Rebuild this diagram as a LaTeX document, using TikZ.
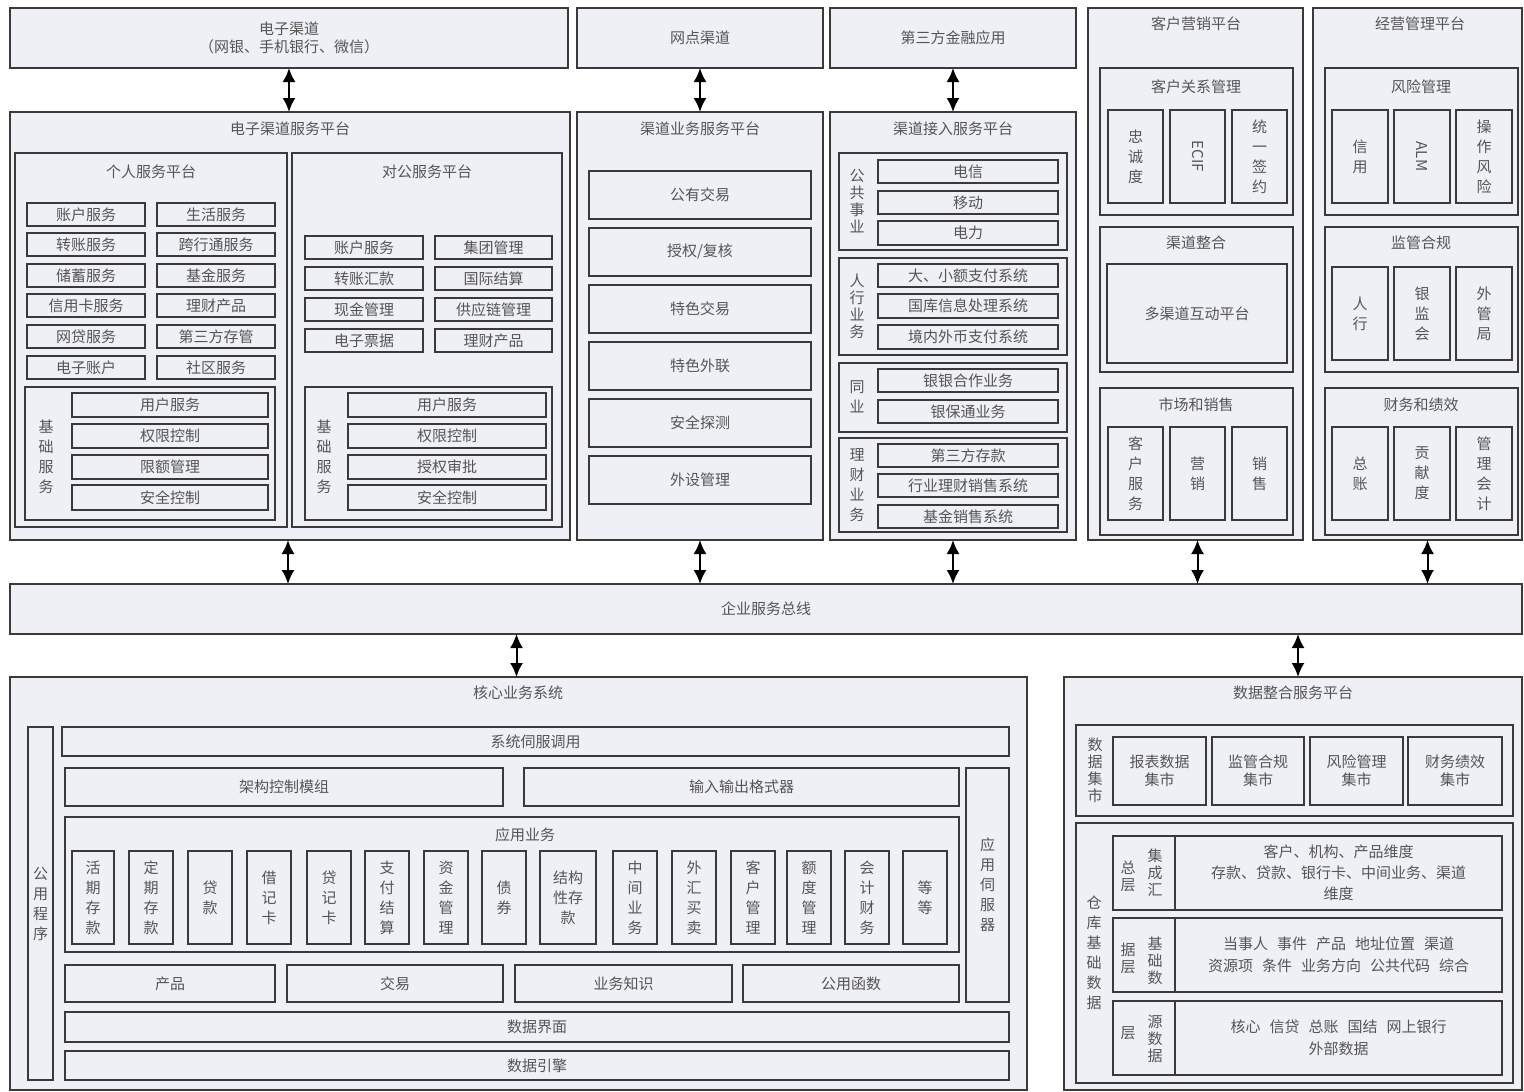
\documentclass[tikz,border=0pt]{standalone}
\usepackage{fontspec}
\usepackage{graphicx}
\setmainfont{Noto Sans CJK SC}
\usetikzlibrary{arrows.meta}
\definecolor{boxfill}{HTML}{EEF0F6}
\definecolor{lnc}{HTML}{3A3A3A}
\definecolor{txt}{HTML}{555555}
\newcommand\bx[7][]{\node[box,#1,minimum width={(#5-#3)*1pt},minimum height={(#6-#4)*1pt}] (#2) at ({(#3+#5)/2},{(#4+#6)/2}) {#7};}
\newcommand\sgap{\hspace{0.6em}}
\tikzset{
 box/.style={draw=lnc,fill=boxfill,line width=1.6pt,inner sep=0pt,outer sep=0pt,text=txt,font=\fontsize{15}{18}\selectfont,align=center},
 grp/.style={line width=1.8pt},
 vt/.style={font=\fontsize{15}{20}\selectfont},
 vts/.style={font=\fontsize{15}{17}\selectfont},
 ttl/.style={text=txt,font=\fontsize{15}{18}\selectfont,inner sep=0pt,anchor=center,align=center},
 arr/.style={{Latex[length=14pt,width=13pt]}-{Latex[length=14pt,width=13pt]},line width=2pt,black},
}
\begin{document}
\begin{tikzpicture}[x=1pt,y=-1pt]
\useasboundingbox[fill=white] (0,0) rectangle (1524,1092);
% top row
\bx{ech}{10}{8}{568}{68}{电子渠道\\（网银、手机银行、微信）}
\bx{wd}{577}{8}{823}{68}{网点渠道}
\bx{dsf}{830}{8}{1076}{68}{第三方金融应用}
\bx[grp]{khyx}{1088}{8}{1303}{540}{}
\node[ttl] (khyxt) at (1196,24) {客户营销平台};
\bx[grp]{jygl}{1313}{8}{1522}{540}{}
\node[ttl] (jyglt) at (1420,24) {经营管理平台};
% electronic channel service platform
\bx[grp]{echsp}{10}{112}{570}{540}{}
\node[ttl] (echspt) at (290,129) {电子渠道服务平台};
\bx[grp]{gr}{15}{153}{287}{527}{}
\node[ttl] (grt) at (151,172) {个人服务平台};
\bx{gra}{27}{203}{145}{226}{账户服务}
\bx{grb}{157}{203}{275}{226}{生活服务}
\bx{grc}{27}{233}{145}{256}{转账服务}
\bx{grd}{157}{233}{275}{256}{跨行通服务}
\bx{gre}{27}{264}{145}{287}{储蓄服务}
\bx{grf}{157}{264}{275}{287}{基金服务}
\bx{grg}{27}{294}{145}{317}{信用卡服务}
\bx{grh}{157}{294}{275}{317}{理财产品}
\bx{gri}{27}{325}{145}{348}{网贷服务}
\bx{grj}{157}{325}{275}{348}{第三方存管}
\bx{grk}{27}{356}{145}{379}{电子账户}
\bx{grl}{157}{356}{275}{379}{社区服务}
\bx[grp]{grjc}{25}{387}{275}{520}{}
\node[ttl,vt] (grjct) at (46,457) {基\\础\\服\\务};
\bx{grja}{72}{393}{268}{417}{用户服务}
\bx{grjb}{72}{424}{268}{448}{权限控制}
\bx{grjc2}{72}{455}{268}{479}{限额管理}
\bx{grjd}{72}{485}{268}{510}{安全控制}
\bx[grp]{dg}{292}{153}{562}{527}{}
\node[ttl] (dgt) at (427,172) {对公服务平台};
\bx{dga}{305}{236}{423}{259}{账户服务}
\bx{dgb}{435}{236}{552}{259}{集团管理}
\bx{dgc}{305}{267}{423}{290}{转账汇款}
\bx{dgd}{435}{267}{552}{290}{国际结算}
\bx{dge}{305}{298}{423}{321}{现金管理}
\bx{dgf}{435}{298}{552}{321}{供应链管理}
\bx{dgg}{305}{329}{423}{352}{电子票据}
\bx{dgh}{435}{329}{552}{352}{理财产品}
\bx[grp]{dgjc}{305}{387}{552}{520}{}
\node[ttl,vt] (dgjct) at (324,457) {基\\础\\服\\务};
\bx{dgja}{348}{393}{546}{417}{用户服务}
\bx{dgjb}{348}{424}{546}{448}{权限控制}
\bx{dgjc2}{348}{455}{546}{479}{授权审批}
\bx{dgjd}{348}{485}{546}{510}{安全控制}
% channel business service platform
\bx[grp]{qdyw}{577}{112}{823}{540}{}
\node[ttl] (qdywt) at (700,129) {渠道业务服务平台};
\bx{ywa}{589}{171}{811}{219}{公有交易}
\bx{ywb}{589}{228}{811}{276}{授权/复核}
\bx{ywc}{589}{285}{811}{333}{特色交易}
\bx{ywd}{589}{342}{811}{390}{特色外联}
\bx{ywe}{589}{399}{811}{447}{安全探测}
\bx{ywf}{589}{456}{811}{504}{外设管理}
% channel access service platform
\bx[grp]{qdjr}{830}{112}{1076}{540}{}
\node[ttl] (qdjrt) at (953,129) {渠道接入服务平台};
\bx[grp]{jra}{839}{153}{1067}{250}{}
\node[ttl,vts] (jrat) at (857,201) {公\\共\\事\\业};
\bx{jraa}{878}{160}{1058}{183}{电信}
\bx{jrab}{878}{191}{1058}{214}{移动}
\bx{jrac}{878}{221}{1058}{245}{电力}
\bx[grp]{jrb}{839}{258}{1067}{355}{}
\node[ttl,vts] (jrbt) at (857,306) {人\\行\\业\\务};
\bx{jrba}{878}{264}{1058}{287}{大、小额支付系统}
\bx{jrbb}{878}{294}{1058}{318}{国库信息处理系统}
\bx{jrbc}{878}{325}{1058}{349}{境内外币支付系统}
\bx[grp]{jrc}{839}{363}{1067}{432}{}
\node[ttl,vt] (jrct) at (857,397) {同\\业};
\bx{jrca}{878}{369}{1058}{392}{银银合作业务}
\bx{jrcb}{878}{400}{1058}{423}{银保通业务}
\bx[grp]{jrd}{839}{438}{1067}{532}{}
\node[ttl,vt] (jrdt) at (857,485) {理\\财\\业\\务};
\bx{jrda}{878}{444}{1058}{467}{第三方存款}
\bx{jrdb}{878}{474}{1058}{497}{行业理财销售系统}
\bx{jrdc}{878}{505}{1058}{528}{基金销售系统}
% customer marketing platform
\bx[grp]{kha}{1100}{68}{1293}{215}{}
\node[ttl] (khat) at (1196,87) {客户关系管理};
\bx[vt]{khaa}{1108}{110}{1163}{203}{忠\\诚\\度}
\bx{khab}{1170}{110}{1225}{203}{\rotatebox{-90}{ECIF}}
\bx[vt]{khac}{1232}{110}{1287}{203}{统\\一\\签\\约}
\bx[grp]{khb}{1100}{227}{1293}{372}{}
\node[ttl] (khbt) at (1196,243) {渠道整合};
\bx{khba}{1107}{264}{1287}{363}{多渠道互动平台}
\bx[grp]{khc}{1100}{388}{1293}{535}{}
\node[ttl] (khct) at (1196,405) {市场和销售};
\bx[vt]{khca}{1108}{427}{1163}{520}{客\\户\\服\\务}
\bx[vt]{khcb}{1170}{427}{1225}{520}{营\\销}
\bx[vt]{khcc}{1232}{427}{1287}{520}{销\\售}
% management platform
\bx[grp]{jya}{1325}{68}{1518}{215}{}
\node[ttl] (jyat) at (1421,87) {风险管理};
\bx[vt]{jyaa}{1332}{110}{1388}{203}{信\\用}
\bx{jyab}{1394}{110}{1450}{203}{\rotatebox{-90}{ALM}}
\bx[vt]{jyac}{1456}{110}{1512}{203}{操\\作\\风\\险}
\bx[grp]{jyb}{1325}{227}{1518}{372}{}
\node[ttl] (jybt) at (1421,243) {监管合规};
\bx[vt]{jyba}{1332}{267}{1388}{360}{人\\行}
\bx[vt]{jybb}{1394}{267}{1450}{360}{银\\监\\会}
\bx[vt]{jybc}{1456}{267}{1512}{360}{外\\管\\局}
\bx[grp]{jyc}{1325}{388}{1518}{535}{}
\node[ttl] (jyct) at (1421,405) {财务和绩效};
\bx[vt]{jyca}{1332}{427}{1388}{520}{总\\账}
\bx[vt]{jycb}{1394}{427}{1450}{520}{贡\\献\\度}
\bx[vt]{jycc}{1456}{427}{1512}{520}{管\\理\\会\\计}
% bus
\bx{bus}{10}{584}{1522}{634}{企业服务总线}
% core business system
\bx[grp]{core}{10}{677}{1027}{1090}{}
\node[ttl] (coret) at (518,693) {核心业务系统};
\bx[vt]{gycx}{28}{727}{53}{1080}{公\\用\\程\\序}
\bx{xtff}{62}{727}{1009}{756}{系统伺服调用}
\bx{jgkz}{65}{768}{503}{806}{架构控制模组}
\bx{srsc}{524}{768}{959}{806}{输入输出格式器}
\bx[vt]{yyff}{966}{768}{1009}{1002}{应\\用\\伺\\服\\器}
\bx[grp]{yyyw}{65}{817}{959}{952}{}
\node[ttl] (yyywt) at (525,835) {应用业务};
\bx[vt]{ca}{72}{851}{114}{944}{活\\期\\存\\款}
\bx[vt]{cb}{129}{851}{173}{944}{定\\期\\存\\款}
\bx[vt]{cc}{188}{851}{232}{944}{贷\\款}
\bx[vt]{cd}{247}{851}{291}{944}{借\\记\\卡}
\bx[vt]{ce}{307}{851}{351}{944}{贷\\记\\卡}
\bx[vt]{cf}{365}{851}{409}{944}{支\\付\\结\\算}
\bx[vt]{cg}{424}{851}{468}{944}{资\\金\\管\\理}
\bx[vt]{ch}{482}{851}{526}{944}{债\\券}
\bx[vt]{ci}{540}{851}{596}{944}{结构\\性存\\款}
\bx[vt]{cj}{613}{851}{657}{944}{中\\间\\业\\务}
\bx[vt]{ck}{672}{851}{716}{944}{外\\汇\\买\\卖}
\bx[vt]{cl}{731}{851}{775}{944}{客\\户\\管\\理}
\bx[vt]{cm}{787}{851}{831}{944}{额\\度\\管\\理}
\bx[vt]{cn}{845}{851}{889}{944}{会\\计\\财\\务}
\bx[vt]{co}{903}{851}{947}{944}{等\\等}
\bx{cp}{65}{965}{275}{1002}{产品}
\bx{jyi}{287}{965}{503}{1002}{交易}
\bx{ywzs}{515}{965}{732}{1002}{业务知识}
\bx{gyhs}{743}{965}{959}{1002}{公用函数}
\bx{sjjm}{65}{1012}{1009}{1042}{数据界面}
\bx{sjyq}{65}{1051}{1009}{1080}{数据引擎}
% data integration platform
\bx[grp]{dz}{1064}{677}{1522}{1090}{}
\node[ttl] (dzt) at (1293,693) {数据整合服务平台};
\bx[grp]{jsg}{1076}{725}{1513}{816}{}
\node[ttl,vts] (jsgt) at (1095,770) {数\\据\\集\\市};
\bx{jsa}{1113}{737}{1206}{805}{报表数据\\集市}
\bx{jsb}{1212}{737}{1304}{805}{监管合规\\集市}
\bx{jsc}{1310}{737}{1403}{805}{风险管理\\集市}
\bx{jsd}{1408}{737}{1502}{805}{财务绩效\\集市}
\bx[grp]{ckj}{1076}{823}{1513}{1083}{}
\node[ttl,vt] (ckjt) at (1094,953) {仓\\库\\基\\础\\数\\据};
\bx{raa}{1113}{836}{1175}{910}{}
\bx[font=\fontsize{15}{21}\selectfont]{rab}{1175}{836}{1502}{910}{客户、机构、产品维度\\存款、贷款、银行卡、中间业务、渠道\\维度}
\node[ttl,vts] (rax) at (1155,873) {集\\成\\汇};
\node[ttl,vts] (ray) at (1128,876) {总\\层};
\bx{rba}{1113}{918}{1175}{992}{}
\bx[font=\fontsize{15}{22}\selectfont]{rbb}{1175}{918}{1502}{992}{当事人\sgap 事件\sgap 产品\sgap 地址位置\sgap 渠道\\资源项\sgap 条件\sgap 业务方向\sgap 公共代码\sgap 综合}
\node[ttl,vts] (rbx) at (1155,961) {基\\础\\数};
\node[ttl,vts] (rby) at (1128,958) {据\\层};
\bx{rca}{1113}{1001}{1175}{1075}{}
\bx[font=\fontsize{15}{22}\selectfont]{rcb}{1175}{1001}{1502}{1075}{核心\sgap 信贷\sgap 总账\sgap 国结\sgap 网上银行\\外部数据}
\node[ttl,vts] (rcx) at (1155,1039) {源\\数\\据};
\node[ttl,vts] (rcy) at (1128,1033) {层};
% arrows
\draw[arr] (ech.south) -- (ech.south |- echsp.north);
\draw[arr] (wd.south) -- (wd.south |- qdyw.north);
\draw[arr] (dsf.south) -- (dsf.south |- qdjr.north);
\draw[arr] ([xshift=-2pt]echsp.south) -- ([xshift=-2pt]echsp.south |- bus.north);
\draw[arr] (qdyw.south) -- (qdyw.south |- bus.north);
\draw[arr] (qdjr.south) -- (qdjr.south |- bus.north);
\draw[arr] ([xshift=2pt]khyx.south) -- ([xshift=2pt]khyx.south |- bus.north);
\draw[arr] ([xshift=10pt]jygl.south) -- ([xshift=10pt]jygl.south |- bus.north);
\draw[arr] ([xshift=-2pt]bus.south -| core.north) -- ([xshift=-2pt]core.north);
\draw[arr] ([xshift=5pt]bus.south -| dz.north) -- ([xshift=5pt]dz.north);
\end{tikzpicture}
\end{document}
